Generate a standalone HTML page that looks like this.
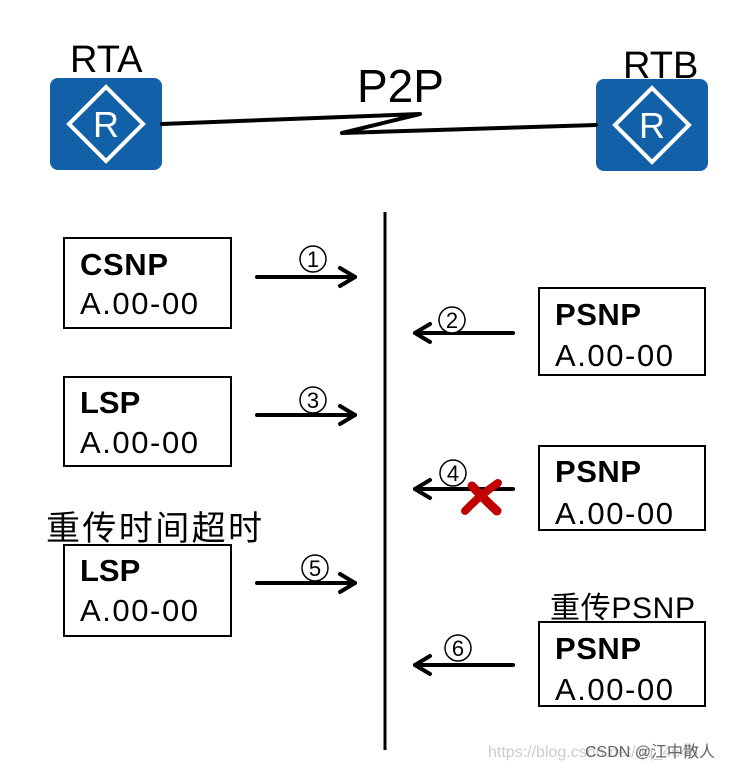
<!DOCTYPE html>
<html><head><meta charset="utf-8"><style>
html,body{margin:0;padding:0;background:#fff;}
svg{display:block;}
text{font-family:"Liberation Sans","Noto Sans CJK SC",sans-serif;fill:#000;}
</style></head><body>
<svg width="737" height="770" viewBox="0 0 737 770" xmlns="http://www.w3.org/2000/svg">
<defs>
<g id="router">
<rect x="0" y="0" width="112" height="92" rx="8" fill="#1261a8"/>
<polygon points="56,9 93,46 56,83 19,46" fill="none" stroke="#fff" stroke-width="4"/>
<text x="56" y="59" font-size="36" text-anchor="middle" style="fill:#fff">R</text>
</g>
</defs>
<use href="#router" x="50" y="78"/>
<use href="#router" x="596" y="79"/>
<text x="70" y="72" font-size="38">RTA</text>
<text x="623" y="78" font-size="38">RTB</text>
<text x="357" y="102" font-size="46">P2P</text>
<polyline points="162,124 420,114 342,133 596,125" fill="none" stroke="#000" stroke-width="4" stroke-linejoin="round" stroke-linecap="round"/>
<line x1="385" y1="212" x2="385" y2="750" stroke="#000" stroke-width="3"/>
<g fill="none" stroke="#000" stroke-width="2">
<rect x="64" y="238" width="167" height="90"/>
<rect x="64" y="377" width="167" height="89"/>
<rect x="64" y="545" width="167" height="91"/>
<rect x="539" y="288" width="166" height="87"/>
<rect x="539" y="446" width="166" height="84"/>
<rect x="539" y="622" width="166" height="84"/>
</g>
<g font-size="31">
<text x="80" y="275" font-weight="bold" textLength="88">CSNP</text><text x="80" y="314" textLength="118">A.00-00</text>
<text x="80" y="413" font-weight="bold">LSP</text><text x="80" y="453" textLength="118">A.00-00</text>
<text x="80" y="581" font-weight="bold">LSP</text><text x="80" y="621" textLength="118">A.00-00</text>
<text x="555" y="325" font-weight="bold" textLength="86">PSNP</text><text x="555" y="366" textLength="118">A.00-00</text>
<text x="555" y="482" font-weight="bold" textLength="86">PSNP</text><text x="555" y="524" textLength="118">A.00-00</text>
<text x="555" y="659" font-weight="bold" textLength="86">PSNP</text><text x="555" y="700" textLength="118">A.00-00</text>
</g>
<text x="46" y="540" font-size="34" textLength="216">重传时间超时</text>
<text x="550" y="618" font-size="30" textLength="145">重传PSNP</text>
<g stroke="#000" stroke-width="4" fill="none" stroke-linecap="round" stroke-linejoin="round">
<line x1="257" y1="277" x2="355" y2="277"/><polyline points="340,268 355,277 340,286"/>
<line x1="257" y1="415" x2="355" y2="415"/><polyline points="340,406 355,415 340,424"/>
<line x1="257" y1="583" x2="355" y2="583"/><polyline points="340,574 355,583 340,592"/>
<line x1="415" y1="333" x2="513" y2="333"/><polyline points="430,324 415,333 430,342"/>
<line x1="415" y1="489" x2="513" y2="489"/><polyline points="430,480 415,489 430,498"/>
<line x1="415" y1="665" x2="513" y2="665"/><polyline points="430,656 415,665 430,674"/>
</g>
<g fill="#fff" stroke="#000" stroke-width="1.5">
<circle cx="313" cy="259" r="13"/><circle cx="313" cy="400" r="13"/><circle cx="315" cy="568" r="13"/>
<circle cx="452" cy="320" r="13"/><circle cx="453" cy="473" r="13"/><circle cx="458" cy="648" r="13"/>
</g>
<g font-size="22" text-anchor="middle">
<text x="313" y="267">1</text><text x="313" y="408">3</text><text x="315" y="576">5</text>
<text x="452" y="328">2</text><text x="453" y="481">4</text><text x="458" y="656">6</text>
</g>
<g stroke="#c00000" stroke-linecap="round" fill="none">
<path d="M465,511 Q480,495 498,483" stroke-width="8"/>
<path d="M472,486 Q485,500 497,511" stroke-width="9"/>
</g>
<text x="488" y="757" font-size="16" style="fill:#ccc">https://blog.csdn.net/qq_4646</text>
<text x="585" y="757" font-size="16" style="fill:#666">CSDN @江中散人</text>
</svg>
</body></html>
